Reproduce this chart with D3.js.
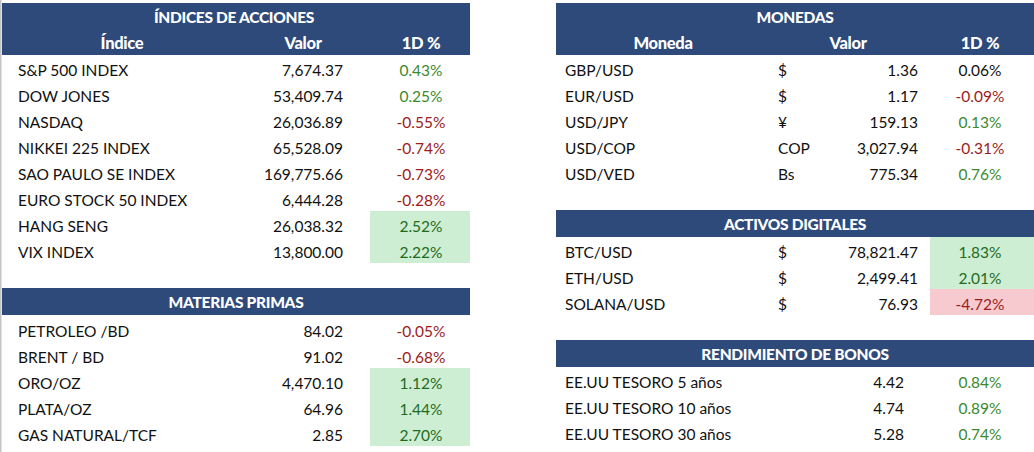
<!DOCTYPE html>
<html>
<head>
<meta charset="utf-8">
<script src="https://cdn.jsdelivr.net/npm/d3@7.9.0/dist/d3.min.js"></script>
<style>
  body { margin: 0; background: #fff; }
  svg { display: block; font-family: Lato, "Open Sans", sans-serif; }
</style>
</head>
<body>
<svg id="chart" width="1034" height="452"></svg>
<script>
// índices de acciones
const indices = ['S&P 500 INDEX', 'DOW JONES', 'NASDAQ', 'NIKKEI 225 INDEX', 'SAO PAULO SE INDEX',
                 'EURO STOCK 50 INDEX', 'HANG SENG', 'VIX INDEX'];
const indicesValor = ['7,674.37', '53,409.74', '26,036.89', '65,528.09', '169,775.66', '6,444.28', '26,038.32', '13,800.00'];
const indicesPct = [0.43, 0.25, -0.55, -0.74, -0.73, -0.28, 2.52, 2.22];

// materias primas
const materias = ['PETROLEO /BD', 'BRENT / BD', 'ORO/OZ', 'PLATA/OZ', 'GAS NATURAL/TCF'];
const materiasValor = ['84.02', '91.02', '4,470.10', '64.96', '2.85'];
const materiasPct = [-0.05, -0.68, 1.12, 1.44, 2.70];

// monedas
const monedas = ['GBP/USD', 'EUR/USD', 'USD/JPY', 'USD/COP', 'USD/VED'];
const monedasSimbolo = ['$', '$', '¥', 'COP', 'Bs'];
const monedasValor = ['1.36', '1.17', '159.13', '3,027.94', '775.34'];
const monedasPct = [0.06, -0.09, 0.13, -0.31, 0.76];

// activos digitales
const activos = ['BTC/USD', 'ETH/USD', 'SOLANA/USD'];
const activosSimbolo = ['$', '$', '$'];
const activosValor = ['78,821.47', '2,499.41', '76.93'];
const activosPct = [1.83, 2.01, -4.72];

// rendimiento de bonos
const bonos = ['EE.UU TESORO 5 años', 'EE.UU TESORO 10 años', 'EE.UU TESORO 30 años'];
const bonosValor = ['4.42', '4.74', '5.28'];
const bonosPct = [0.84, 0.89, 0.74];

const svg = d3.select('#chart');
const BLUE = '#2E4A7A';
const ROW_H = 26;
const FS = 15.5;

// thin grey edge on the left
svg.append('rect').attr('x', 0).attr('y', 0).attr('width', 1.5).attr('height', 452).attr('fill', '#c4c4c4');

function pctColor(v, filled) {
  if (Math.abs(v) < 0.1 && v > 0) return '#111';
  if (v >= 0) return filled ? '#1E6B1E' : '#3B8A2E';
  return '#9C1C1C';
}

function whiteText(x, y, s, size) {
  svg.append('text')
    .attr('x', x).attr('y', y)
    .attr('text-anchor', 'middle').attr('dominant-baseline', 'central')
    .attr('fill', '#fff').attr('font-weight', 900).attr('font-size', size)
    .attr('letter-spacing', -0.3)
    .text(s);
}

function header(x0, x1, y, h, title) {
  svg.append('rect').attr('x', x0).attr('y', y).attr('width', x1 - x0).attr('height', h).attr('fill', BLUE);
  if (title) whiteText((x0 + x1) / 2, y + h / 2, title, 15.5);
}

// opts: names, simbolos, valores, pcts, top, cols {name, sym, val, pct, fillX0, fillX1}, filled(v)
function body(o) {
  const y = d3.scaleBand().domain(d3.range(o.names.length))
    .range([o.top, o.top + ROW_H * o.names.length]);
  const g = svg.append('g');

  o.names.forEach((n, i) => {
    const v = o.pcts[i];
    const fill = o.filled(v);
    if (fill) {
      g.append('rect')
        .attr('x', o.cols.fillX0).attr('y', y(i) - 2)
        .attr('width', o.cols.fillX1 - o.cols.fillX0).attr('height', y.bandwidth())
        .attr('fill', v >= 0 ? '#CDEED3' : '#F6CACE');
    }
    const cy = y(i) + y.bandwidth() / 2 - 0.5;
    const txt = (x, anchor, s, color) => g.append('text')
      .attr('x', x).attr('y', cy)
      .attr('text-anchor', anchor).attr('dominant-baseline', 'central')
      .attr('font-size', FS).attr('fill', color || '#111')
      .text(s);
    txt(o.cols.name, 'start', n);
    if (o.simbolos) txt(o.cols.sym, 'start', o.simbolos[i]);
    txt(o.cols.val, 'end', o.valores[i]);
    txt(o.cols.pct, 'middle', v.toFixed(2) + '%', pctColor(v, !!fill));
  });
}

// --- left column ---
const L = { x0: 2, x1: 470, name: 18, val: 343, pct: 421, fillX0: 370, fillX1: 470 };
header(L.x0, L.x1, 3, 52, '');
whiteText(234, 17, 'ÍNDICES DE ACCIONES', 15.5);
whiteText(122, 43, 'Índice', 16.5);
whiteText(303, 43, 'Valor', 16.5);
whiteText(421, 43, '1D %', 16.5);
body({ names: indices, valores: indicesValor, pcts: indicesPct, top: 57, cols: L, filled: v => v > 2 });

header(L.x0, L.x1, 288, 27, 'MATERIAS PRIMAS');
body({ names: materias, valores: materiasValor, pcts: materiasPct, top: 318, cols: L, filled: v => v > 1 });

// --- right column ---
const R = { x0: 556, x1: 1034, name: 565, sym: 778, val: 918, pct: 980, fillX0: 930, fillX1: 1034 };
header(R.x0, R.x1, 3, 52, '');
whiteText(795, 17, 'MONEDAS', 15.5);
whiteText(663, 43, 'Moneda', 16.5);
whiteText(848, 43, 'Valor', 16.5);
whiteText(980, 43, '1D %', 16.5);
body({ names: monedas, simbolos: monedasSimbolo, valores: monedasValor, pcts: monedasPct, top: 57, cols: R, filled: () => false });

header(R.x0, R.x1, 210, 27, 'ACTIVOS DIGITALES');
body({ names: activos, simbolos: activosSimbolo, valores: activosValor, pcts: activosPct, top: 239, cols: R, filled: () => true });

header(R.x0, R.x1, 340, 27, 'RENDIMIENTO DE BONOS');
body({ names: bonos, valores: bonosValor, pcts: bonosPct, top: 369, cols: Object.assign({}, R, { val: 904 }), filled: () => false });
</script>
</body>
</html>
